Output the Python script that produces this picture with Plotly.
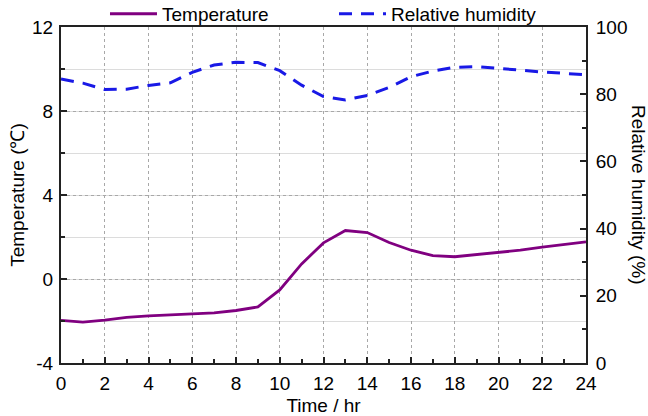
import plotly.graph_objects as go

hours = list(range(25))
temperature = [-1.97, -2.05, -1.96, -1.83, -1.76, -1.71, -1.66, -1.61, -1.5, -1.33,
               -0.52, 0.72, 1.72, 2.31, 2.21, 1.74, 1.37, 1.11, 1.06, 1.17,
               1.26, 1.37, 1.52, 1.66, 1.77]
humidity = [84.5, 83.3, 81.4, 81.5, 82.6, 83.4, 86.5, 88.7, 89.5, 89.4,
            87.0, 82.7, 79.3, 78.3, 79.6, 82.0, 85.2, 86.9, 88.0, 88.2,
            87.7, 87.1, 86.6, 86.2, 85.8]
x_ticks = list(range(0, 25, 2))
temp_ticks = [-4, 0, 4, 8, 12]
temp_labels = ["-4", "0", "4", "8", "12"]
hum_ticks = [0, 20, 40, 60, 80, 100]

FONT = "Liberation Sans, Arial, sans-serif"
FS = 19
PURPLE = "rgb(128,0,128)"
BLUE = "rgb(25,25,230)"

fig = go.Figure()
fig.add_trace(go.Scatter(x=hours, y=temperature, mode="lines", name="Temperature",
                         line=dict(color=PURPLE, width=2.8), yaxis="y"))
fig.add_trace(go.Scatter(x=hours, y=humidity, mode="lines", name="Relative humidity",
                         line=dict(color=BLUE, width=3, dash="13px,9px"), yaxis="y2"))

fig.update_layout(
    width=648, height=416,
    margin=dict(l=61, r=62, t=27, b=53, autoexpand=False),
    paper_bgcolor="white", plot_bgcolor="white",
    font=dict(family=FONT, size=FS, color="black"),
    showlegend=True,
    legend=dict(orientation="h", x=0.0838, xanchor="left", xref="paper",
                y=1.039, yanchor="middle", yref="paper",
                font=dict(size=FS), bgcolor="rgba(0,0,0,0)", itemwidth=47,
                entrywidth=167, entrywidthmode="pixels", tracegroupgap=0),
    xaxis=dict(range=[0, 24], tickvals=x_ticks, ticks="inside", ticklen=6,
               tickwidth=1.5, tickcolor="#222", ticklabelstandoff=2,
               showline=True, linecolor="#222", linewidth=2, mirror=True,
               showgrid=True, gridcolor="#a8a8a8", griddash="dot", gridwidth=1,
               zeroline=False, automargin=False,
               minor=dict(dtick=1, ticks="inside", ticklen=4, tickcolor="#222", showgrid=False),
               title=dict(text="Time / hr", font=dict(size=FS), standoff=10),
               tickfont=dict(size=FS)),
    yaxis=dict(range=[-4, 12], tickvals=temp_ticks, ticktext=temp_labels,
               ticks="inside", ticklen=6, ticklabelstandoff=2,
               tickwidth=1.5, tickcolor="#222",
               showline=True, linecolor="#222", linewidth=2,
               showgrid=True, gridcolor="#a8a8a8", griddash="dot", gridwidth=1,
               zeroline=False, automargin=False,
               minor=dict(dtick=2, tick0=0, ticks="inside", ticklen=4, tickcolor="#222",
                          showgrid=True, gridcolor="#dcdcdc", griddash="solid", gridwidth=1),
               title=dict(text="Temperature (℃)", font=dict(size=FS), standoff=2),
               tickfont=dict(size=FS)),
    yaxis2=dict(range=[0, 100], tickvals=hum_ticks, overlaying="y", side="right",
                ticks="inside", ticklen=6, tickwidth=1.5, tickcolor="#222",
                ticklabelstandoff=4,
                showline=True, linecolor="#222", linewidth=2,
                showgrid=False, zeroline=False, automargin=False,
                minor=dict(dtick=10, ticks="inside", ticklen=4, tickcolor="#222", showgrid=False),
                tickfont=dict(size=FS)),
    annotations=[dict(text="Relative humidity (%)", xref="paper", yref="paper",
                      x=1.0, xshift=53, y=0.5, textangle=90, showarrow=False,
                      font=dict(size=FS, family=FONT), xanchor="center", yanchor="middle")],
)

fig.write_html("out.html")
